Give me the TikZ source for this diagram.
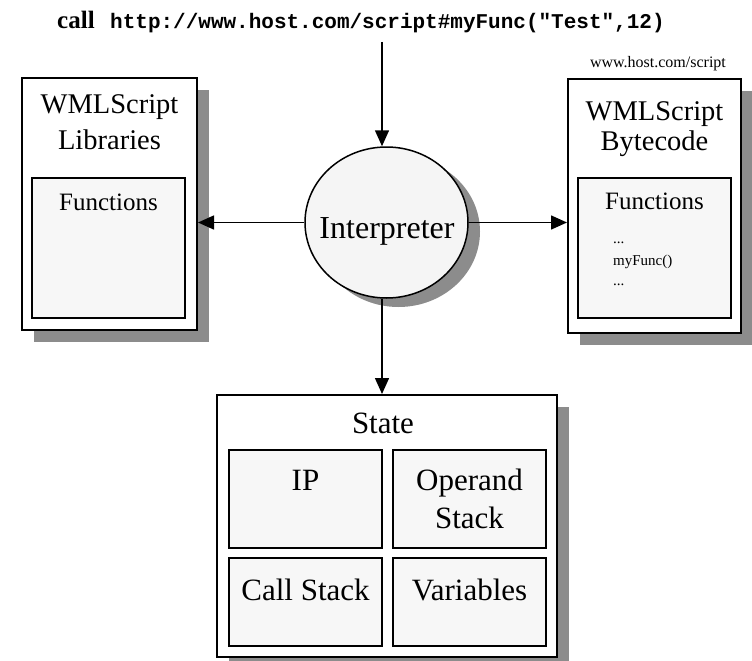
\documentclass[tikz,border=0pt]{standalone}
\usepackage{fontspec}
\setmainfont{Liberation Serif}
\setmonofont{Liberation Mono}
\usetikzlibrary{arrows.meta,shapes.geometric,shadows}
\definecolor{shade}{gray}{0.55}
\definecolor{cellfill}{gray}{0.97}
\definecolor{ovalfill}{gray}{0.96}
\begin{document}
\begin{tikzpicture}[x=1pt,y=-1pt,
  panel/.style={draw=black, line width=2pt, fill=white, inner sep=0pt,
    drop shadow={shadow xshift=12pt, shadow yshift=-12pt, fill=shade, opacity=1}},
  cell/.style={draw=black, line width=1.6pt, fill=cellfill, inner sep=0pt},
  big/.style={font=\fontsize{31}{38}\selectfont, inner sep=0pt, anchor=base},
  title/.style={font=\fontsize{28.5}{34}\selectfont, inner sep=0pt, anchor=base},
  mid/.style={font=\fontsize{25}{28}\selectfont, inner sep=0pt, anchor=base},
  small/.style={font=\fontsize{16}{19}\selectfont, inner sep=0pt, anchor=base},
  tiny/.style={font=\fontsize{15}{18}\selectfont, inner sep=0pt, anchor=base west},
  link/.style={line width=1.5pt, -{Triangle[length=16pt,width=14pt]}}]
\useasboundingbox (0,0) rectangle (752,661);

% call line
\node[inner sep=0pt, anchor=base west, font=\fontsize{25}{30}\selectfont\bfseries] (callword) at (57,29) {call};
\node[inner sep=0pt, anchor=base west, font=\fontsize{21}{26}\selectfont\ttfamily\bfseries] (url) at (110,29) {http://www.host.com/script\#myFunc("Test",12)};
\coordinate (feed) at (382,42);

% library panel
\node[panel, minimum width=175pt, minimum height=252pt] (lib) at (109.5,204) {};
\node[title] (libt1) at (109.5,113) {WMLScript};
\node[title] (libt2) at (109.5,149) {Libraries};
\node[cell, minimum width=153pt, minimum height=140pt] (libfun) at (108.5,248) {};
\node[mid] (libfunt) at (108.5,210) {Functions};

% bytecode panel
\node[small] (host) at (658,67) {www.host.com/script};
\node[panel, minimum width=173pt, minimum height=254pt] (byte) at (654.5,206) {};
\node[title] (bytet1) at (654.5,120) {WMLScript};
\node[title] (bytet2) at (654.5,150) {Bytecode};
\node[cell, minimum width=153pt, minimum height=140pt] (bytefun) at (654.5,248) {};
\node[mid] (bytefunt) at (654.5,209) {Functions};
\node[tiny] (dots1) at (613,243) {...};
\node[tiny] (myfunc) at (613,265) {myFunc()};
\node[tiny] (dots2) at (613,285) {...};

% interpreter
\node[ellipse, draw=black, line width=1.5pt, fill=ovalfill, inner sep=0pt,
  minimum width=163pt, minimum height=151pt,
  drop shadow={shadow xshift=12pt, shadow yshift=-9pt, fill=shade, opacity=1}]
  (interp) at (386.5,222.5) {};
\node[font=\fontsize{32}{38}\selectfont, inner sep=0pt, anchor=base] (interpt) at (387,238) {Interpreter};

% state panel
\node[panel, minimum width=340pt, minimum height=262pt] (state) at (387,526) {};
\node[big] (statet) at (383,433) {State};
\node[cell, minimum width=153pt, minimum height=98pt] (ip) at (305.5,499) {};
\node[cell, minimum width=153pt, minimum height=98pt] (opst) at (469.5,499) {};
\node[cell, minimum width=153pt, minimum height=88pt] (callst) at (305.5,602) {};
\node[cell, minimum width=153pt, minimum height=88pt] (vars) at (469.5,602) {};
\node[big] (ipt) at (305.5,490) {IP};
\node[big] (opt1) at (469.5,490) {Operand};
\node[big] (opt2) at (469.5,528) {Stack};
\node[big] (callstt) at (305.5,600) {Call Stack};
\node[big] (varst) at (469.5,600) {Variables};

% connectors
\draw[link] (feed) -- (feed |- interp.north);
\draw[link] (interp.west) -- (lib.east |- interp.west);
\draw[link] (interp.east) -- (byte.west |- interp.east);
\draw[link] (feed |- interp.south) -- (feed |- state.north);
\end{tikzpicture}
\end{document}
